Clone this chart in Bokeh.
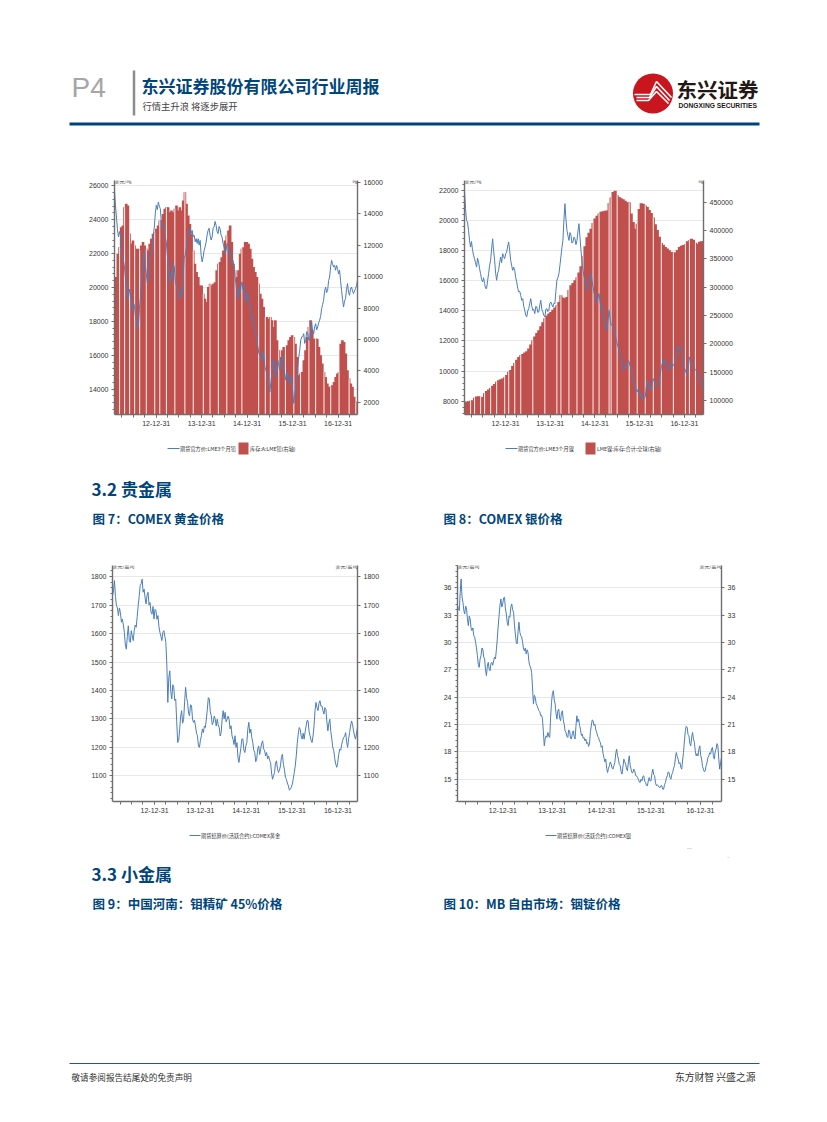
import pandas as pd
from bokeh.core.properties import value
from bokeh.embed import file_html
from bokeh.layouts import column, row
from bokeh.models import FixedTicker, Label, LinearAxis, Range1d, SingleIntervalTicker, Spacer
from bokeh.plotting import figure
from bokeh.resources import INLINE

# ---------- data ----------
year_ticks = ["2012-12-31", "2013-12-31", "2014-12-31", "2015-12-31", "2016-12-31"]
year_labels = ["12-12-31", "13-12-31", "14-12-31", "15-12-31", "16-12-31"]
date_start = "2012-01-31"
date_end = "2017-06-05"

lead_price = [25730,24800,24160,23400,22980,23300,23080,22300,21800,21600,21210,20500,20130,19600,19340,19900,19640,19000,18660,19100,18950,18300,18070,17600,17770,18700,19440,20300,20820,21600,22190,21300,20820,20200,20430,21200,21900,21900,22290,23100,23570,24400,24850,24600,25040,24800,24650,23900,23570,23700,23270,23000,22690,21900,21510,20700,20230,20900,20620,21400,21210,20400,20130,20000,19740,19300,19340,19900,19640,20800,21800,21900,22290,22800,22980,23500,23470,23200,23370,23000,23080,22700,22880,22600,22880,22500,22780,21900,21510,21800,22190,22400,22690,23100,23370,23500,23080,22800,22980,23500,23570,23900,23670,23300,23180,23600,23470,23100,22980,22600,22390,22000,22190,22600,22490,22000,22100,21700,21410,21600,21210,20600,20230,19700,19340,19900,19640,20100,20330,19900,20130,19500,19150,19700,19540,19500,19050,18500,18070,18200,17870,17500,17280,16900,16500,16100,16000,15900,15710,16200,15900,15300,15120,14900,14630,14200,13840,14400,14920,15700,15510,14800,14730,15300,15710,15400,15120,15700,16000,15500,15320,14900,14530,15000,14730,14500,14330,14800,14530,13800,13160,13700,14140,14800,15320,15900,16300,16900,17090,17100,17280,16700,16890,17400,17280,16900,16890,17500,17970,17400,17280,17700,17870,17500,17670,17900,18070,18300,18760,19000,19250,19800,20030,19700,19830,20400,20620,21200,21600,21400,21210,21300,21020,21300,21110,20800,21020,20400,19830,19300,18850,19200,19340,19900,20230,19700,19540,19900,20030,19800,19640,19800,19930,20100,20430]
lead_stock = [9120,9970,11460,11880,13150,13260,14420,14640,14530,12730,12090,12300,11990,11770,11770,11670,11990,12200,11990,11770,11670,12090,12410,12730,12830,13050,13260,13580,13580,14000,14320,14420,14420,14110,14210,14110,14320,14530,14210,14420,14210,14850,15380,14640,13890,13360,12730,11670,10820,10290,9970,9440,9440,8910,8590,8380,9340,9550,9440,9550,9650,10400,10820,10930,11240,11670,12300,12620,12940,13260,12200,10820,10400,9970,10400,11460,11770,11880,12200,12200,12090,11770,11140,10610,10290,9970,9550,8910,8590,8060,7430,7430,7320,7430,7220,6790,7220,5940,5310,4880,5310,5520,5520,5630,5940,6160,6260,6160,5730,4880,3720,3820,3930,4670,5310,6160,6790,7220,6580,6050,6050,6050,5520,4990,4460,3930,3610,3190,2980,2980,3080,3290,3610,3820,3930,5730,5940,5840,5100,4040,3510,3190,2980,2340,2020,2020]
lead_pale = [3,6,9,12,15,19,24,27,31,36,42,47,53,57,62,67,72,76,86,90,93,98,102,107,111,116,120,125,129,134,140,144]

nickel_price = [22000,20800,20010,19900,19350,18700,18240,18600,18020,17700,17470,17200,16910,17500,17250,16800,16470,16100,15920,16200,15810,15500,15480,16000,16470,17000,17360,18100,18790,18000,17360,16500,16030,16500,16690,17200,17580,17200,17800,17600,17470,17800,17910,18300,18570,18000,17360,17000,16690,16900,16690,16200,15920,15500,15260,15300,15030,14700,14810,14300,14040,13700,13600,14000,14150,14500,14810,14300,14040,14100,13820,14300,14260,13900,13930,14400,14700,14100,13930,13700,13600,14100,14150,13950,14040,14500,14590,14400,14260,14500,14480,15300,16030,16200,16470,17000,17580,18200,18680,20000,21120,20100,19350,19000,18680,19200,19020,18500,18570,18900,18790,18400,18680,19300,19790,18900,18020,17300,16690,16300,16030,15700,15370,15600,15810,16200,16470,16000,15590,15200,14920,14700,14590,14900,15150,14600,14150,14300,14040,13400,12930,12900,12710,13400,14040,13500,13040,13100,12930,12700,12490,12100,11830,11600,11380,11100,10940,10400,10060,10300,10170,10400,10390,10700,10610,10300,10280,9900,9610,9100,8730,8800,8620,8800,8620,8300,8510,8200,8070,8200,8290,8900,9390,9000,8840,8950,8730,9200,9500,9300,9170,9000,8950,9100,9390,9800,10280,10500,10720,10500,10720,10400,10280,10100,10060,10400,10610,10300,10390,10500,10610,11100,11610,11400,11610,11700,11500,10900,10280,10200,10060,9800,9730,10300,10940,10700,10610,10400,10280,10200,10060,10000,9950,9600,9390,9300,9170,9000,8950]
nickel_stock = [97650,97650,98830,99800,100590,105000,107000,107640,106500,106000,113000,117000,119390,122000,126000,129000,133000,135840,137500,139000,141000,145000,150530,154000,161000,166000,172000,176960,180000,182000,184500,187000,191650,199000,206000,213000,219000,223960,231000,238000,245000,250000,253340,256000,260000,264000,268000,273900,285650,281540,280500,282500,295000,303280,307500,312000,317000,326000,337000,355000,372000,388000,396000,403150,413000,421000,426000,430000,433000,434000,435000,435460,448000,458000,468000,470000,462000,459000,457000,455000,452500,450000,450000,430000,415000,403000,412000,438000,448000,447000,444000,441500,436000,431000,423000,411000,401000,389000,378000,375000,371000,368000,365000,362000,359000,361500,365500,370800,373000,374500,375500,381000,382600,385500,383500,378500,376700,380000,380800,380800]
nickel_pale = [3,5,8,10,13,16,20,22,25,28,34,40,46,48,52,56,59,64,67,72,73,76,82,86,90,94,98,104,110,112,115]

gold_price = [1733,1750,1786,1730,1698,1690,1663,1690,1674,1640,1651,1630,1604,1560,1545,1590,1627,1575,1569,1610,1592,1575,1610,1630,1622,1660,1698,1730,1768,1775,1791,1745,1756,1725,1704,1735,1745,1700,1709,1675,1668,1695,1651,1685,1680,1650,1663,1625,1604,1590,1575,1605,1610,1590,1569,1490,1358,1445,1469,1395,1370,1420,1411,1365,1370,1290,1217,1225,1264,1310,1329,1285,1299,1360,1411,1375,1358,1320,1311,1350,1346,1300,1288,1295,1276,1250,1241,1205,1200,1225,1241,1265,1252,1275,1270,1300,1334,1375,1370,1325,1311,1280,1288,1310,1299,1275,1299,1280,1270,1240,1252,1300,1329,1300,1323,1290,1299,1310,1299,1265,1276,1240,1229,1210,1241,1200,1217,1165,1147,1175,1200,1230,1229,1190,1182,1205,1217,1265,1288,1250,1264,1235,1217,1190,1182,1150,1159,1195,1205,1175,1194,1215,1223,1195,1188,1170,1182,1160,1170,1155,1147,1110,1088,1100,1112,1145,1153,1125,1112,1120,1135,1165,1176,1140,1123,1095,1088,1075,1065,1050,1053,1060,1071,1090,1112,1135,1170,1215,1246,1270,1264,1240,1229,1250,1229,1255,1276,1295,1293,1255,1241,1225,1217,1240,1276,1330,1358,1340,1329,1355,1364,1345,1346,1330,1317,1340,1334,1290,1258,1285,1299,1255,1229,1200,1188,1160,1141,1130,1147,1175,1194,1190,1211,1225,1235,1240,1252,1220,1200,1230,1252,1275,1293,1280,1258,1240,1229,1250,1270]
silver_price = [34.05,33.7,33.5,35.5,36.98,35,34.41,33.5,33.13,34,33.68,32.6,31.85,32.9,32.58,31.6,31.3,31.6,30.75,30.6,30.02,29.4,28.55,27.6,27.27,28.2,28.55,29.4,29.29,28.4,28.19,27,26.36,27.4,27.82,27.1,26.9,27.7,27.82,27.5,28,28.4,28.19,29.2,30.38,31.8,32.95,34.1,34.78,33.9,34.23,34.9,34.96,33.7,33.13,32.2,31.85,32.9,32.77,33.9,34.23,33.6,33.32,31.9,30.93,30,29.84,31.2,32.22,31.1,30.75,30.6,30.02,29.3,29.1,29.4,28.74,29.2,28.92,27.9,27.45,27.2,26.72,25,23.24,24.2,23.97,23.3,23.06,22.8,22.51,22.4,21.96,22,21.59,20.2,18.66,19.4,19.76,19.6,20.13,19.7,19.58,21.8,23.42,24.4,24.71,23.7,23.24,22.2,21.59,22.5,22.69,21.7,21.41,22.3,22.51,21.5,21.04,20.3,20.13,19.7,19.58,20.4,20.31,19.5,19.4,20,20.31,19.7,19.4,20.8,21.96,21.3,21.59,20.9,20.49,19.8,19.95,19.5,19.58,19.2,19.4,18.9,19.03,18.6,18.85,20.2,20.86,21.5,21.41,20.9,21.04,20.4,20.13,19.7,19.58,19.2,19.03,18.5,18.66,17.8,17.38,16.9,17.2,16.2,15.73,16.2,16.47,16.9,16.65,16.2,16.1,16.5,16.83,17.8,18.3,17.6,17.2,16.6,16.47,15.8,15.55,16.4,17.2,16.9,16.65,16.1,15.92,16.9,17.56,16.5,16.1,15.7,15.73,16.1,15.92,15.4,15.37,15.2,15.0,14.7,14.63,15,14.82,15.3,15.37,14.8,14.63,14.3,14.27,14.8,15.18,14.8,14.82,15.6,16.1,15.5,15.37,14.6,14.27,14.4,14.27,14.1,14.08,14.3,14.27,13.9,13.9,14.4,14.63,15.1,15.37,15.8,15.73,15.2,15.0,15.5,15.73,16.2,16.47,17.3,17.93,17.5,17.2,16.7,16.83,16.3,16.1,17.1,17.93,19.2,20.31,20.8,20.68,19.9,19.76,18.9,18.66,19.6,20.13,19.4,19.03,18.1,17.56,17.8,17.56,18.3,18.66,17.6,17.2,16.4,16.1,15.8,15.92,16.5,16.83,17.4,17.56,17.9,17.75,18.3,18.48,17.6,17.2,18,18.3,18.9,18.66,17.2,16.1,16.8,17.38]

# ---------- styling ----------
CJK = "Noto Sans CJK SC"
LATIN = "Liberation Sans"
BLUE = "#00457c"
LINE = "#4a7ebb"
BAR = "#c0504d"
AXIS = "#6e6e6e"


def ms(d):
    return pd.Timestamp(d).timestamp() * 1000


def page(y0, y1):
    p = figure(width=811, height=y1 - y0, x_range=Range1d(0, 811), y_range=Range1d(y1, y0),
               output_backend="svg", toolbar_location=None, min_border=0,
               x_axis_location=None, y_axis_location=None, outline_line_color=None)
    p.grid.visible = False
    return p


def put(p, x, y, s, size, color="#333333", bold=False, font=CJK, align="left"):
    p.text([x], [y], text=[s], text_font=value(font), text_font_size=f"{size}px",
           text_color=color, text_font_style="bold" if bold else "normal",
           text_align=align, text_baseline="middle")


def key_line(p, x0, x1, y, s):
    p.line([x0, x1], [y, y], line_color=LINE, line_width=1)
    put(p, x1 + 0.5, y, s, 5.2, "#333333")


def key_bar(p, x0, x1, y, s):
    p.quad(left=[x0], right=[x1], top=[y - 6], bottom=[y + 6], fill_color=BAR, line_color=None)
    put(p, x1 + 1.5, y, s, 5.2, "#333333")


def chart(width, height, left, right, top, bottom, yl, yl_tick, yr=None, yr_tick=None,
          line=None, bars=None, pale=None, unit_l="", unit_r="", line_w=1.0):
    x0, x1 = ms(date_start), ms(date_end)
    p = figure(width=width, height=height, x_axis_type="datetime",
               x_range=Range1d(x0, x1), y_range=Range1d(*yl),
               output_backend="svg", toolbar_location=None,
               min_border_left=left, min_border_right=right,
               min_border_top=top, min_border_bottom=bottom,
               outline_line_color=None, y_axis_location="left")
    p.xgrid.visible = False
    tk = SingleIntervalTicker(interval=yl_tick, num_minor_ticks=5)
    p.ygrid.ticker = tk
    p.ygrid.grid_line_color = "#e8e8e8"
    p.ygrid.grid_line_width = 1

    rng = yr if yr else yl
    rtick = yr_tick if yr_tick else yl_tick
    p.extra_y_ranges = {"r": Range1d(*rng)}
    rax = LinearAxis(y_range_name="r", ticker=SingleIntervalTicker(interval=rtick, num_minor_ticks=1))
    p.add_layout(rax, "right")
    p.yaxis[0].ticker = tk

    if bars is not None:
        dts = pd.date_range(date_start, date_end, periods=len(bars))
        step = (x1 - x0) / len(bars)
        p.vbar(x=dts, top=bars, bottom=rng[0], width=step * 1.6, y_range_name="r",
               fill_color=BAR, line_color=None)
        p.vbar(x=[dts[i] for i in pale], top=[bars[i] for i in pale], bottom=rng[0],
               width=(x1 - x0) / 244 * 1.1, y_range_name="r", fill_color="#f8e6e4", line_color=None)
    dtl = pd.date_range(date_start, date_end, periods=len(line))
    p.line(dtl, line, line_color=LINE, line_width=line_w)

    xa = p.xaxis[0]
    xa.ticker = FixedTicker(ticks=[ms(d) for d in year_ticks],
                            minor_ticks=[ms(d) for d in pd.date_range("2012-03-31", "2017-03-31", freq="QE")])
    xa.major_label_overrides = {ms(d): s for d, s in zip(year_ticks, year_labels)}
    for ax in (xa, p.yaxis[0], rax):
        ax.axis_line_color = AXIS
        ax.axis_line_width = 1.4
        ax.major_tick_line_color = AXIS
        ax.minor_tick_line_color = AXIS
        ax.major_tick_in = 0
        ax.minor_tick_in = 0
        ax.major_tick_out = 3
        ax.minor_tick_out = 2
        ax.major_label_standoff = 3
        ax.major_label_text_font = LATIN
        ax.major_label_text_font_size = "7px"
        ax.major_label_text_color = "#333333"
    xa.minor_tick_out = 3
    p.yaxis[0].formatter.use_scientific = False
    rax.formatter.use_scientific = False

    ytop = yl[1]
    for s, x, al in ((unit_l, x0, "left"), (unit_r, x1, "right")):
        p.add_layout(Label(x=x, y=ytop, text=s, text_align=al, text_baseline="middle",
                           text_font=CJK, text_font_size="5px", text_color="#444444"))
    return p


# ---------- header ----------
head = page(0, 170)
put(head, 71, 87, "P4", 28, "#a6a6a6", font=LATIN)
head.rect([133.5], [92.5], width=2.5, height=45, fill_color="#8c8c8c", line_color=None)
put(head, 141, 85, "东兴证券股份有限公司行业周报", 17, BLUE, bold=True)
put(head, 142, 105, "行情主升浪 将逐步展开", 9.3, "#444444")
head.rect([414], [123.5], width=690, height=3, fill_color="#00437a", line_color=None)
# logo
head.circle([652.5], [93], radius=20, fill_color="#c9151e", line_color=None)
head.multi_line([[634, 650, 656, 671], [636, 649, 656, 669], [636, 648, 656, 668]],
                [[94, 94, 81, 97], [97, 97, 86, 100], [100, 100, 91, 103]],
                line_color="white", line_width=1.6)
put(head, 676, 88, "东兴证券", 20.5, "#231815", bold=True)
put(head, 678, 105, "DONGXING SECURITIES", 6.7, "#231815", bold=True, font=LATIN)

# ---------- row 1 ----------
c1 = chart(300, 270, 29, 27, 10, 26, (12507, 26314), 2000, (1215, 16127), 2000,
           line=lead_price, bars=lead_stock, pale=lead_pale, unit_l="美元/吨", unit_r="吨")
c2 = chart(300, 270, 29, 32, 10, 26, (7115, 22660), 2000, (75320, 488190), 50000,
           line=nickel_price, bars=nickel_stock, pale=nickel_pale, unit_l="美元/吨", unit_r="吨")

# ---------- legends of row 1 and section 3.2 ----------
mid = page(440, 555)
key_line(mid, 167, 179, 448, "期货官方价:LME3个月铅")
key_bar(mid, 238, 248, 448, "库存:A:LME铅(右轴)")
key_line(mid, 505, 517, 448, "期货官方价:LME3个月镍")
key_bar(mid, 585, 595, 448, "LME镍:库存:合计:全球(右轴)")
put(mid, 91, 488, "3.2 贵金属", 17, BLUE, bold=True)
put(mid, 92, 518, "图 7：COMEX 黄金价格", 12.5, BLUE, bold=True)
put(mid, 443, 518, "图 8：COMEX 银价格", 12.5, BLUE, bold=True)

# ---------- row 2 ----------
c3 = chart(300, 270, 27, 28, 10, 24, (1010, 1839), 100, line=gold_price,
           unit_l="美元/盎司", unit_r="美元/盎司")
c4 = chart(320, 270, 22, 34, 10, 24, (12.55, 38.45), 3, line=silver_price,
           unit_l="美元/盎司", unit_r="美元/盎司")

# ---------- legends of row 2, section 3.3 and footer ----------
foot = page(825, 1114)
key_line(foot, 189, 200, 835, "期货结算价(活跃合约):COMEX黄金")
key_line(foot, 545, 556, 835, "期货结算价(活跃合约):COMEX银")
foot.rect([689, 728], [848, 857], width=[5, 2], height=[1, 1], fill_color="#e6dcdc", line_color=None)
put(foot, 91, 873, "3.3 小金属", 17, BLUE, bold=True)
put(foot, 92, 903, "图 9：中国河南：钼精矿 45%价格", 12.5, BLUE, bold=True)
put(foot, 443, 903, "图 10：MB 自由市场：铟锭价格", 12.5, BLUE, bold=True)
foot.rect([414], [1063], width=690, height=1, fill_color="#1f5a8c", line_color=None)
put(foot, 71, 1076, "敬请参阅报告结尾处的免责声明", 8.6, "#333333")
put(foot, 755, 1076, "东方财智 兴盛之源", 9.8, "#333333", align="right")

layout = column(head,
                row(Spacer(width=85, height=270), c1, Spacer(width=50, height=270), c2),
                mid,
                row(Spacer(width=85, height=270), c3, Spacer(width=50, height=270), c4),
                foot, spacing=0)
open("out.html", "w").write(file_html(layout, INLINE))
